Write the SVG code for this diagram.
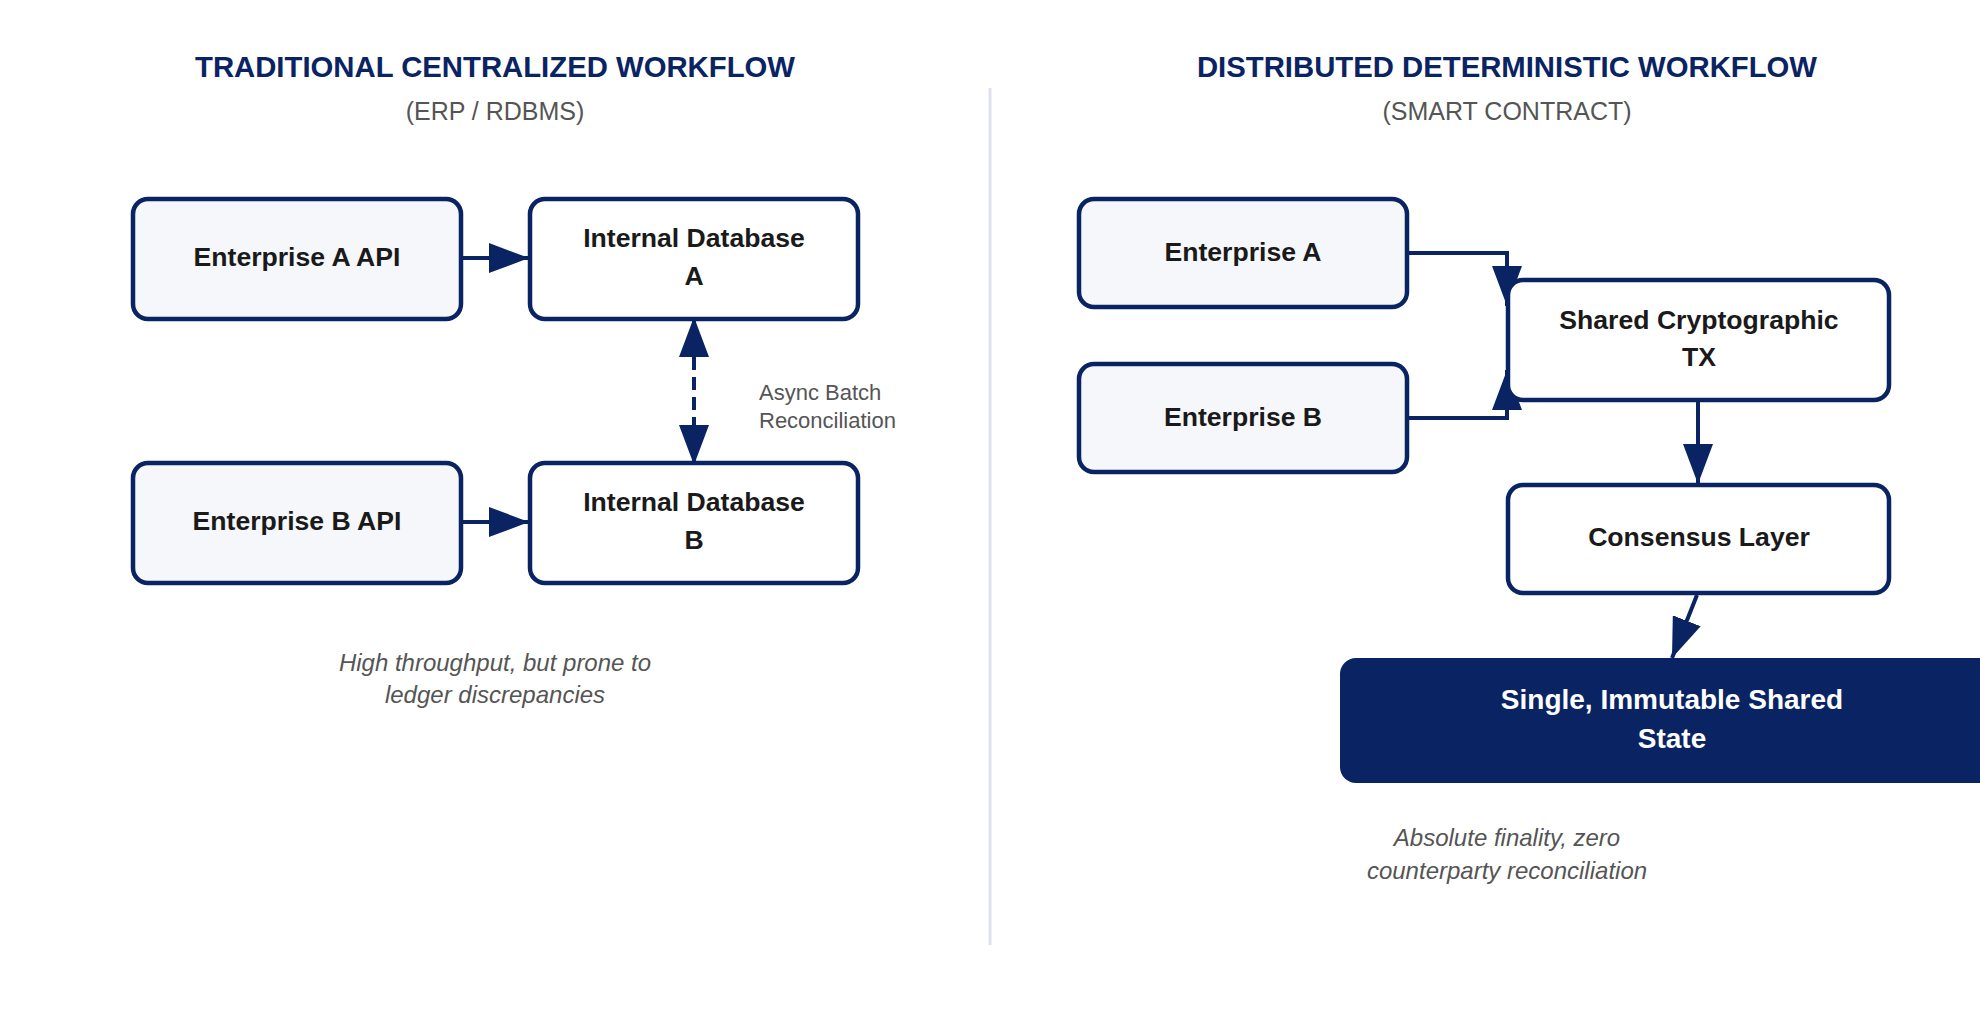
<svg xmlns="http://www.w3.org/2000/svg" width="1980" height="1012" viewBox="0 0 1980 1012">
<style>
.title{font-family:"Liberation Sans",Arial,sans-serif;font-weight:bold;font-size:29.3px;fill:#0a2463;text-anchor:middle}
.sub{font-family:"Liberation Sans",Arial,sans-serif;font-size:25px;fill:#555555;text-anchor:middle}
.box{fill:#f5f7fa;stroke:#0a2463;stroke-width:4.5}
.wbox{fill:#ffffff;stroke:#0a2463;stroke-width:4.5}
.lbl{font-family:"Liberation Sans",Arial,sans-serif;font-weight:bold;font-size:26.6px;fill:#1a1a1a;text-anchor:middle}
.wlbl{font-family:"Liberation Sans",Arial,sans-serif;font-weight:bold;font-size:28px;fill:#ffffff;text-anchor:middle}
.edge{fill:none;stroke:#0a2463;stroke-width:4}
.note{font-family:"Liberation Sans",Arial,sans-serif;font-size:22px;fill:#555555}
.cap{font-family:"Liberation Sans",Arial,sans-serif;font-style:italic;font-size:24px;fill:#555555;text-anchor:middle}
</style>
<defs>
<marker id="arr" markerUnits="userSpaceOnUse" markerWidth="40" markerHeight="30" viewBox="0 0 40 30" refX="40" refY="15" orient="auto-start-reverse">
<path d="M0,0 L40,15 L0,30 z" fill="#0a2463"/>
</marker>
</defs>
<rect width="1980" height="1012" fill="#ffffff"/>
<line x1="990" y1="88" x2="990" y2="945" stroke="#dde2ec" stroke-width="3"/>
<text class="title" x="495" y="77">TRADITIONAL CENTRALIZED WORKFLOW</text>
<text class="sub" x="495" y="120">(ERP / RDBMS)</text>
<text class="title" x="1507" y="77">DISTRIBUTED DETERMINISTIC WORKFLOW</text>
<text class="sub" x="1507" y="120">(SMART CONTRACT)</text>
<g id="connectors">
<path class="edge" d="M463,258 L529,258" marker-end="url(#arr)"/>
<path class="edge" d="M463,522 L529,522" marker-end="url(#arr)"/>
<path class="edge" d="M694,317 L694,465" stroke-dasharray="13 7" marker-start="url(#arr)" marker-end="url(#arr)"/>
<path class="edge" d="M1409,253 H1507 V306" marker-end="url(#arr)"/>
<path class="edge" d="M1409,418 H1507 V370" marker-end="url(#arr)"/>
<path class="edge" d="M1698,402 V484" marker-end="url(#arr)"/>
<path class="edge" d="M1697,595 L1672,658" marker-end="url(#arr)"/>
</g>
<g id="entA_api"><rect class="box" x="133" y="199" width="328" height="120" rx="15"/><text class="lbl" x="297" y="266">Enterprise A API</text></g>
<g id="dbA"><rect class="wbox" x="530" y="199" width="328" height="120" rx="15"/><text class="lbl" x="694" y="247">Internal Database</text><text class="lbl" x="694" y="285">A</text></g>
<g id="entB_api"><rect class="box" x="133" y="463" width="328" height="120" rx="15"/><text class="lbl" x="297" y="530">Enterprise B API</text></g>
<g id="dbB"><rect class="wbox" x="530" y="463" width="328" height="120" rx="15"/><text class="lbl" x="694" y="511">Internal Database</text><text class="lbl" x="694" y="549">B</text></g>
<g id="async_label"><text class="note" x="759" y="400">Async Batch</text><text class="note" x="759" y="428">Reconciliation</text></g>
<g id="caption_left"><text class="cap" x="495" y="671">High throughput, but prone to</text><text class="cap" x="495" y="703">ledger discrepancies</text></g>
<g id="entA"><rect class="box" x="1079" y="199" width="328" height="108" rx="15"/><text class="lbl" x="1243" y="261">Enterprise A</text></g>
<g id="entB"><rect class="box" x="1079" y="364" width="328" height="108" rx="15"/><text class="lbl" x="1243" y="426">Enterprise B</text></g>
<g id="sharedTx"><rect class="wbox" x="1508" y="280" width="381" height="120" rx="15"/><text class="lbl" x="1699" y="329">Shared Cryptographic</text><text class="lbl" x="1699" y="366">TX</text></g>
<g id="consensus"><rect class="wbox" x="1508" y="485" width="381" height="108" rx="15"/><text class="lbl" x="1699" y="546">Consensus Layer</text></g>
<g id="state"><rect x="1340" y="658" width="700" height="125" rx="16" fill="#0a2463"/><text class="wlbl" x="1672" y="709">Single, Immutable Shared</text><text class="wlbl" x="1672" y="748">State</text></g>
<g id="caption_right"><text class="cap" x="1507" y="846">Absolute finality, zero</text><text class="cap" x="1507" y="879">counterparty reconciliation</text></g>
</svg>
